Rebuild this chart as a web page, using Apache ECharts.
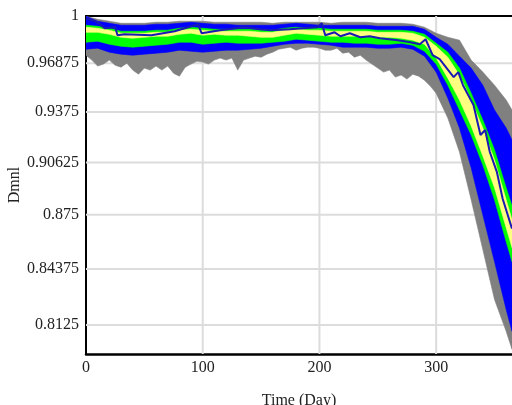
<!DOCTYPE html>
<html><head><meta charset="utf-8">
<script src="https://cdn.jsdelivr.net/npm/echarts@6/dist/echarts.min.js"></script>
<style>html,body{margin:0;padding:0;background:#fff}#c{width:512px;height:405px}</style>
</head><body><div id="c"></div>
<script>
const days = [0,10,20,30,40,50,60,70,80,90,100,110,120,130,140,150,160,170,180,190,200,210,220,230,240,250,260,270,280,290,300,310,320,330,340,350,360,365];
const grayHigh = [0.9998,0.9978,0.9965,0.9951,0.9951,0.9951,0.9958,0.9958,0.9965,0.9965,0.9965,0.9958,0.9958,0.9958,0.9958,0.9958,0.9951,0.9958,0.9958,0.9958,0.9958,0.9951,0.9958,0.9958,0.9958,0.9951,0.9951,0.9951,0.9945,0.9925,0.9885,0.9858,0.9839,0.9708,0.9630,0.9546,0.9451,0.9388];
const blueHigh = [0.9998,0.9965,0.9951,0.9938,0.9938,0.9938,0.9945,0.9945,0.9951,0.9958,0.9951,0.9945,0.9945,0.9938,0.9938,0.9938,0.9938,0.9945,0.9951,0.9945,0.9938,0.9938,0.9938,0.9938,0.9938,0.9931,0.9931,0.9931,0.9931,0.9911,0.9858,0.9812,0.9734,0.9656,0.9546,0.9388,0.9275,0.9201];
const greenHigh = [0.9938,0.9931,0.9918,0.9898,0.9898,0.9898,0.9905,0.9905,0.9918,0.9925,0.9918,0.9911,0.9911,0.9911,0.9911,0.9905,0.9905,0.9918,0.9925,0.9918,0.9918,0.9911,0.9911,0.9911,0.9911,0.9905,0.9905,0.9905,0.9898,0.9878,0.9819,0.9760,0.9656,0.9495,0.9325,0.9140,0.8910,0.8803];
const yellowHigh = [0.9925,0.9918,0.9905,0.9885,0.9885,0.9885,0.9891,0.9891,0.9905,0.9911,0.9905,0.9898,0.9898,0.9898,0.9898,0.9891,0.9891,0.9905,0.9911,0.9905,0.9905,0.9898,0.9898,0.9898,0.9898,0.9891,0.9891,0.9891,0.9885,0.9858,0.9799,0.9727,0.9611,0.9451,0.9275,0.9079,0.8839,0.8721];
const yellowLow = [0.9891,0.9891,0.9878,0.9858,0.9852,0.9858,0.9865,0.9865,0.9878,0.9885,0.9872,0.9878,0.9872,0.9872,0.9865,0.9858,0.9858,0.9872,0.9885,0.9878,0.9872,0.9865,0.9865,0.9865,0.9865,0.9858,0.9858,0.9852,0.9839,0.9812,0.9721,0.9591,0.9451,0.9288,0.9103,0.8910,0.8674,0.8559];
const greenLow = [0.9825,0.9832,0.9812,0.9799,0.9793,0.9799,0.9806,0.9812,0.9825,0.9825,0.9812,0.9819,0.9825,0.9819,0.9819,0.9819,0.9825,0.9832,0.9845,0.9839,0.9832,0.9825,0.9825,0.9819,0.9819,0.9812,0.9812,0.9819,0.9806,0.9766,0.9682,0.9546,0.9388,0.9232,0.9048,0.8839,0.8593,0.8479];
const blueLow = [0.9779,0.9786,0.9760,0.9747,0.9740,0.9747,0.9753,0.9760,0.9773,0.9766,0.9760,0.9766,0.9773,0.9773,0.9779,0.9786,0.9799,0.9812,0.9819,0.9819,0.9812,0.9806,0.9793,0.9793,0.9793,0.9786,0.9786,0.9793,0.9779,0.9734,0.9630,0.9464,0.9275,0.9030,0.8750,0.8479,0.8211,0.8091];
const grayLowDays = [0,5,10,15,20,25,30,35,40,45,50,55,60,65,70,75,80,85,90,95,100,105,110,115,120,125,130,135,140,145,150,155,160,165,170,175,180,185,190,195,200,205,210,215,220,225,230,235,240,245,250,255,260,265,270,275,280,285,290,295,300,310,320,330,340,350,360,365];
const grayLow = [0.9740,0.9708,0.9669,0.9682,0.9708,0.9675,0.9662,0.9688,0.9643,0.9617,0.9656,0.9643,0.9669,0.9643,0.9669,0.9623,0.9604,0.9662,0.9682,0.9701,0.9695,0.9682,0.9708,0.9721,0.9708,0.9721,0.9643,0.9708,0.9721,0.9734,0.9727,0.9747,0.9760,0.9779,0.9786,0.9793,0.9773,0.9786,0.9793,0.9793,0.9786,0.9773,0.9773,0.9786,0.9753,0.9760,0.9727,0.9740,0.9708,0.9682,0.9656,0.9630,0.9643,0.9598,0.9611,0.9585,0.9617,0.9604,0.9578,0.9540,0.9495,0.9338,0.9127,0.8839,0.8548,0.8266,0.8091,0.7994];
const runDays = [0,8,12,16,25,27,33,56,76,96,99,115,136,149,158,175,186,198,202,205,213,218,226,235,243,252,267,278,286,291,297,303,315,319,323,332,338,342,346,352,357,365];
const runValues = [0.9985,0.9965,0.9945,0.9918,0.9925,0.9872,0.9878,0.9872,0.9898,0.9945,0.9885,0.9905,0.9925,0.9911,0.9905,0.9911,0.9918,0.9925,0.9951,0.9872,0.9891,0.9865,0.9885,0.9858,0.9865,0.9852,0.9839,0.9825,0.9812,0.9845,0.9740,0.9714,0.9598,0.9630,0.9546,0.9420,0.9232,0.9263,0.9127,0.9006,0.8845,0.8669];
const yTickValues = [1,0.96875,0.9375,0.90625,0.875,0.84375,0.8125];
const yTickLabels = ['1','0.96875','0.9375','0.90625','0.875','0.84375','0.8125'];
const xTickValues = [0,100,200,300];
const yAxisMin = 0.79686;
const xAxisMax = 365;

const FONT = 'Liberation Serif';
const chart = echarts.init(document.getElementById('c'), null, {renderer: 'canvas'});

function band(name, hiDays, hi, loDays, lo, color, z) {
  return {
    type: 'custom', name: name, silent: true, animation: false, clip: true, z: z,
    coordinateSystem: 'cartesian2d',
    data: hiDays.map((d, i) => [d, Math.log(hi[i])]),
    encode: {x: 0, y: 1},
    renderItem: function (params, api) {
      if (params.dataIndex !== 0) return null;
      const pts = [];
      for (let i = 0; i < hiDays.length; i++) pts.push(api.coord([hiDays[i], Math.log(hi[i])]));
      for (let i = loDays.length - 1; i >= 0; i--) pts.push(api.coord([loDays[i], Math.log(lo[i])]));
      return {type: 'polygon', shape: {points: pts}, style: {fill: color, stroke: color, lineWidth: 0.6}};
    }
  };
}

const gridSeries = {
  type: 'custom', name: 'gridlines', silent: true, animation: false, z: 1,
  coordinateSystem: 'cartesian2d',
  data: [[0, 0]], encode: {x: 0, y: 1},
  renderItem: function (params, api) {
    const children = [];
    const ymin = Math.log(yAxisMin);
    yTickValues.slice(1).forEach(v => {
      const a = api.coord([0, Math.log(v)]), b = api.coord([xAxisMax, Math.log(v)]);
      children.push({type: 'line', shape: {x1: a[0], y1: a[1], x2: b[0], y2: b[1]}, style: {stroke: '#dcdcdc', lineWidth: 2}});
    });
    xTickValues.slice(1).forEach(v => {
      const a = api.coord([v, ymin]), b = api.coord([v, 0]);
      children.push({type: 'line', shape: {x1: a[0], y1: a[1], x2: b[0], y2: b[1]}, style: {stroke: '#dcdcdc', lineWidth: 2}});
    });
    return {type: 'group', children: children};
  }
};

const option = {
  animation: false,
  backgroundColor: '#fff',
  grid: {left: 86, right: 0, top: 16, bottom: 51, containLabel: false, outerBoundsMode: 'none'},
  xAxis: [{
    type: 'value', min: 0, max: xAxisMax, interval: 100,
    name: 'Time (Day)', nameLocation: 'middle', nameGap: 39, nameMoveOverlap: false,
    nameTextStyle: {fontFamily: FONT, fontSize: 16, color: '#222'},
    axisLine: {show: true, onZero: false, lineStyle: {color: '#000', width: 2.5}},
    axisTick: {show: false},
    splitLine: {show: false},
    axisLabel: {customValues: xTickValues, fontFamily: FONT, fontSize: 16, color: '#222', margin: 6}
  }, {
    type: 'value', min: 0, max: xAxisMax, position: 'top',
    axisLine: {show: true, onZero: false, lineStyle: {color: '#000', width: 2}},
    axisTick: {show: false}, axisLabel: {show: false}, splitLine: {show: false}
  }],
  yAxis: {
    type: 'value', min: Math.log(yAxisMin), max: 0,
    name: 'Dmnl', nameLocation: 'middle', nameGap: 63, nameRotate: 90, nameMoveOverlap: false,
    nameTextStyle: {fontFamily: FONT, fontSize: 16, color: '#222'},
    axisLine: {show: true, onZero: false, lineStyle: {color: '#000', width: 2}},
    axisTick: {show: false},
    splitLine: {show: false},
    axisLabel: {
      customValues: yTickValues.map(Math.log),
      fontFamily: FONT, fontSize: 16, color: '#222', margin: 7,
      formatter: function (v) {
        let best = 0, bd = Infinity;
        yTickValues.forEach((t, i) => { const d = Math.abs(Math.log(t) - v); if (d < bd) { bd = d; best = i; } });
        return yTickLabels[best];
      }
    }
  },
  series: [
    gridSeries,
    band('100%', days, grayHigh, grayLowDays, grayLow, '#808080', 2),
    band('95%', days, blueHigh, days, blueLow, '#0000ff', 3),
    band('75%', days, greenHigh, days, greenLow, '#00ff00', 4),
    band('50%', days, yellowHigh, days, yellowLow, '#ffff80', 5),
    {
      type: 'line', name: 'run', z: 6, silent: true, showSymbol: false, animation: false,
      data: runDays.map((d, i) => [d, Math.log(runValues[i])]),
      lineStyle: {color: '#1a1ab4', width: 2}
    }
  ]
};
chart.setOption(option);
</script>
</body></html>
